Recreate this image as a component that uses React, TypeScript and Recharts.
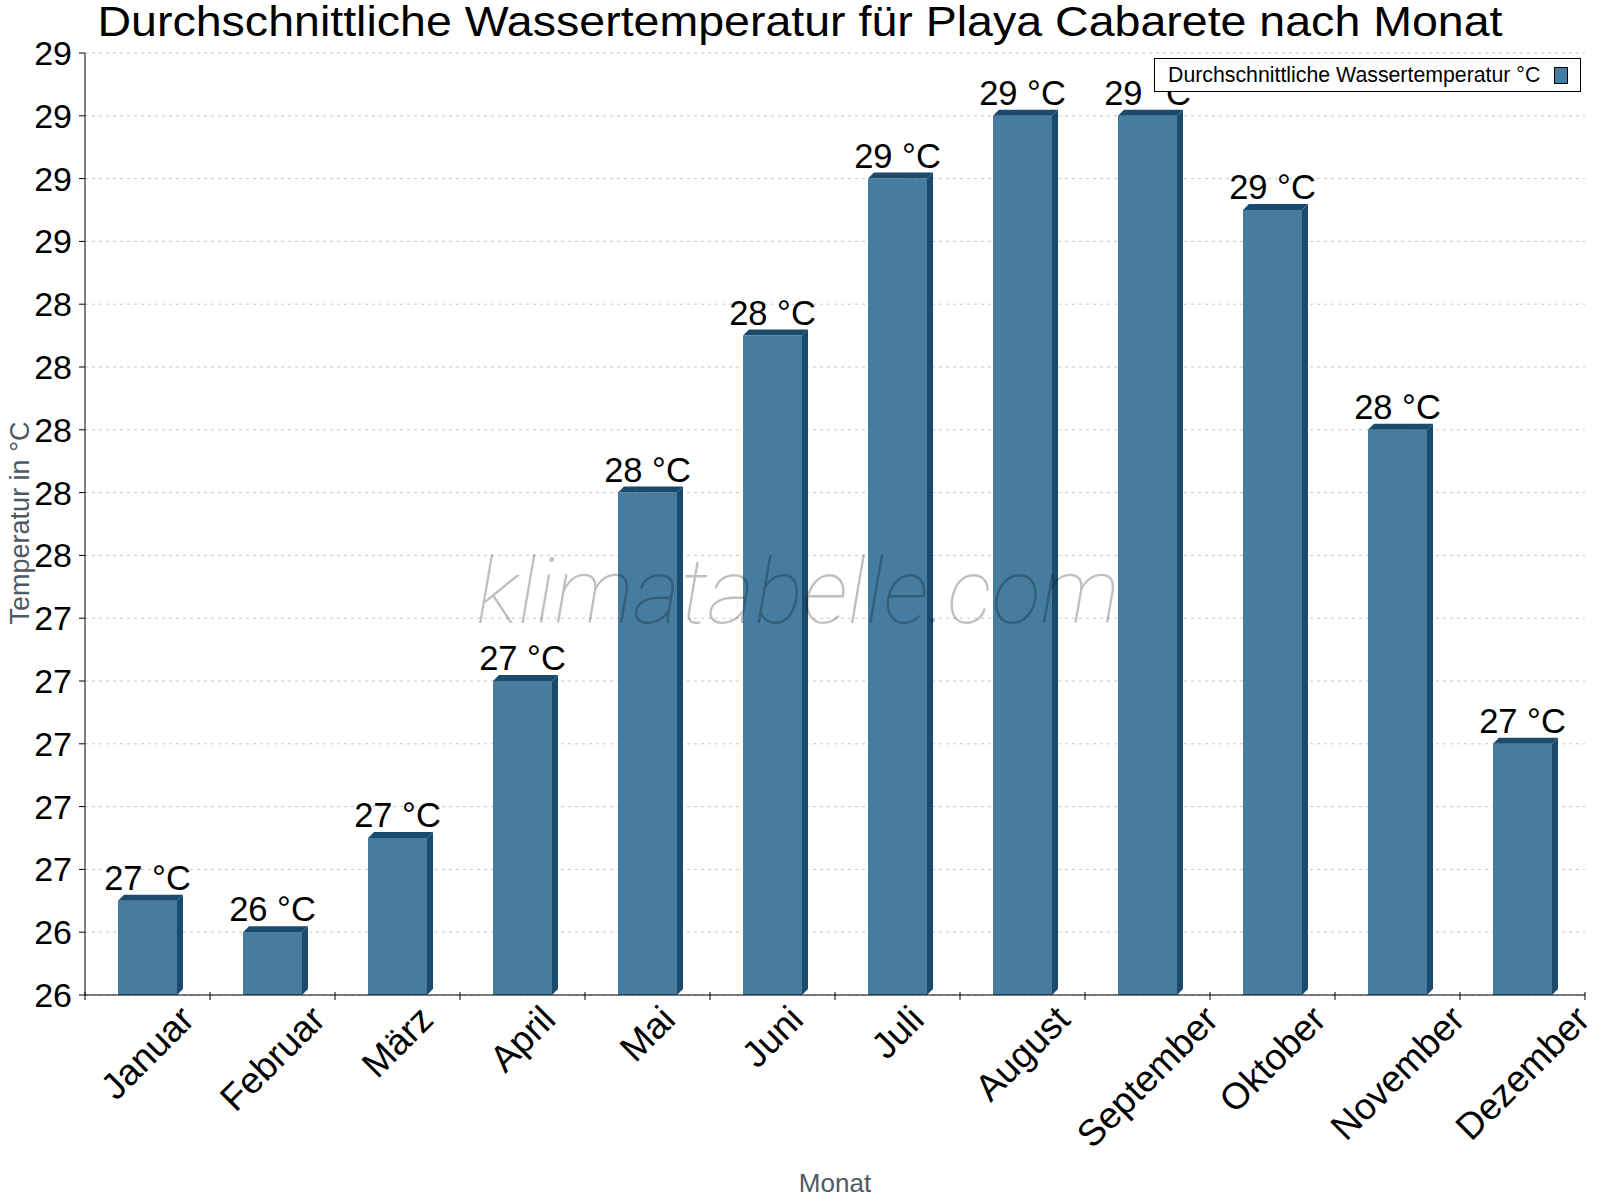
import React from "react";
import {
  BarChart,
  Bar,
  XAxis,
  YAxis,
  CartesianGrid,
  Legend,
  LabelList,
} from "recharts";

const months = [
  "Januar",
  "Februar",
  "März",
  "April",
  "Mai",
  "Juni",
  "Juli",
  "August",
  "September",
  "Oktober",
  "November",
  "Dezember",
];
const waterTemp = [26.5, 26.4, 26.7, 27.2, 27.8, 28.3, 28.8, 29.0, 29.0, 28.7, 28.0, 27.0];
const yTicks = [26.2, 26.4, 26.6, 26.8, 27.0, 27.2, 27.4, 27.6, 27.8, 28.0, 28.2, 28.4, 28.6, 28.8, 29.0, 29.2];

const seriesName = "Durchschnittliche Wassertemperatur °C";
const FONT = "'Liberation Sans', Arial, Helvetica, sans-serif";
const FRONT = "#467ca0";
const DARK = "#1a4b6c";
const AXIS_GRAY = "#4f5963";

const W = 1600;
const H = 1200;
const margin = { top: 53, right: 15, bottom: 0, left: 0 };
const yAxisWidth = 85;
const xAxisHeight = 205;
const plotWidth = W - margin.left - margin.right - yAxisWidth;
const band = plotWidth / months.length;

const data = months.map((m, i) => ({ month: m, temp: waterTemp[i] }));

let ctx: CanvasRenderingContext2D | null = null;
const textWidth = (s: string, font: string) => {
  if (!ctx) ctx = document.createElement("canvas").getContext("2d");
  if (!ctx) return s.length * 19;
  ctx.font = font;
  return ctx.measureText(s).width;
};

// front face plus a shallow top and right side
const Bar3D = (props: any) => {
  const { x, y, width, height } = props;
  if (!height) return null;
  const d = 6;
  const b = y + height;
  return (
    <g>
      <rect x={x} y={y} width={width} height={height} fill={FRONT} />
      <polygon
        points={`${x},${y} ${x + d},${y - d} ${x + width + d},${y - d} ${x + width},${y}`}
        fill={DARK}
      />
      <polygon
        points={`${x + width},${y} ${x + width + d},${y - d} ${x + width + d},${b - d} ${x + width},${b}`}
        fill={DARK}
      />
    </g>
  );
};

const MonthTick = (props: any) => {
  const { x, y, payload, index } = props;
  const axisY = y - 8;
  const fs = 37;
  const L = textWidth(payload.value, `${fs}px ${FONT}`);
  const top = 1003;
  const cy = top + (L + fs * 0.75) / (2 * Math.SQRT2);
  const left = x - band / 2;
  return (
    <g>
      <line x1={left} x2={left} y1={axisY - 3} y2={axisY + 5} stroke="#000" />
      {index === months.length - 1 && (
        <line x1={x + band / 2} x2={x + band / 2} y1={axisY - 3} y2={axisY + 5} stroke="#000" />
      )}
      <text
        x={x}
        y={cy}
        transform={`rotate(-45 ${x} ${cy})`}
        textAnchor="middle"
        dominantBaseline="central"
        fontFamily={FONT}
        fontSize={fs}
        fill="#000"
      >
        {payload.value}
      </text>
    </g>
  );
};

const ValueLabel = (props: any) => {
  const { x, y, width, value } = props;
  return (
    <text
      x={x + width / 2}
      y={y - 11}
      textAnchor="middle"
      fontFamily={FONT}
      fontSize={34.5}
      fill="#000"
    >
      {`${Math.round(value)} °C`}
    </text>
  );
};

const LegendBox = () => (
  <div
    style={{
      display: "flex",
      alignItems: "center",
      boxSizing: "border-box",
      width: 427,
      height: 34,
      border: "1px solid #000",
      background: "#fff",
      paddingLeft: 13,
      fontFamily: FONT,
      fontSize: 21.3,
      color: "#000",
      whiteSpace: "nowrap",
    }}
  >
    <span style={{ flex: 1 }}>{seriesName}</span>
    <span
      style={{
        width: 14,
        height: 17,
        boxSizing: "border-box",
        background: FRONT,
        border: "1px solid #000",
        marginRight: 12,
      }}
    />
  </div>
);

export default function App() {
  return (
    <div
      style={{
        position: "absolute",
        left: 0,
        top: 0,
        width: W,
        height: H,
        background: "#fff",
      }}
    >
      <BarChart width={W} height={H} data={data} margin={margin}>
        <CartesianGrid
          yAxisId="left"
          vertical={false}
          stroke="#c8c8c8"
          strokeDasharray="3 4"
        />
        <XAxis
          dataKey="month"
          height={xAxisHeight}
          interval={0}
          tickLine={false}
          axisLine={{ stroke: "#000" }}
          tick={<MonthTick />}
          label={() => (
            <text
              x={835}
              y={1192}
              textAnchor="middle"
              fontFamily={FONT}
              fontSize={26}
              fill={AXIS_GRAY}
            >
              Monat
            </text>
          )}
        />
        <YAxis
          yAxisId="left"
          width={yAxisWidth}
          domain={[26.2, 29.2]}
          ticks={yTicks}
          interval={0}
          allowDataOverflow
          tickFormatter={(v: number) => String(Math.round(v))}
          tick={{ fontFamily: FONT, fontSize: 34, fill: "#000" }}
          tickLine={{ stroke: "#000" }}
          tickSize={6}
          tickMargin={7}
          axisLine={{ stroke: "#000" }}
          label={() => (
            <text
              x={29}
              y={523}
              transform="rotate(-90 29 523)"
              textAnchor="middle"
              fontFamily={FONT}
              fontSize={27}
              fill={AXIS_GRAY}
            >
              Temperatur in °C
            </text>
          )}
        />
        <YAxis
          yAxisId="right"
          orientation="right"
          width={0}
          domain={[26.2, 29.2]}
          tick={false}
          tickLine={false}
          axisLine={{ stroke: "#000" }}
        />
        <Legend
          layout="vertical"
          align="center"
          verticalAlign="middle"
          wrapperStyle={{ left: 1154, top: 58, width: 427 }}
          content={() => <LegendBox />}
        />
        <Bar
          yAxisId="left"
          dataKey="temp"
          name={seriesName}
          barSize={59}
          shape={<Bar3D />}
          isAnimationActive={false}
        >
          <LabelList dataKey="temp" content={<ValueLabel />} />
        </Bar>
      </BarChart>
      <svg
        width={W}
        height={H}
        style={{ position: "absolute", left: 0, top: 0, pointerEvents: "none" }}
      >
        <text
          x={800}
          y={36}
          textAnchor="middle"
          textLength={1405}
          lengthAdjust="spacingAndGlyphs"
          fontFamily={FONT}
          fontSize={42}
          fill="#000"
        >
          Durchschnittliche Wassertemperatur für Playa Cabarete nach Monat
        </text>
        <text
          x={798}
          y={623}
          textAnchor="middle"
          fontFamily="Roboto, 'Open Sans', sans-serif"
          fontStyle="italic"
          fontWeight={100}
          fontSize={91}
          fill="#000"
          fillOpacity={0.25}
        >
          klimatabelle.com
        </text>
      </svg>
    </div>
  );
}
